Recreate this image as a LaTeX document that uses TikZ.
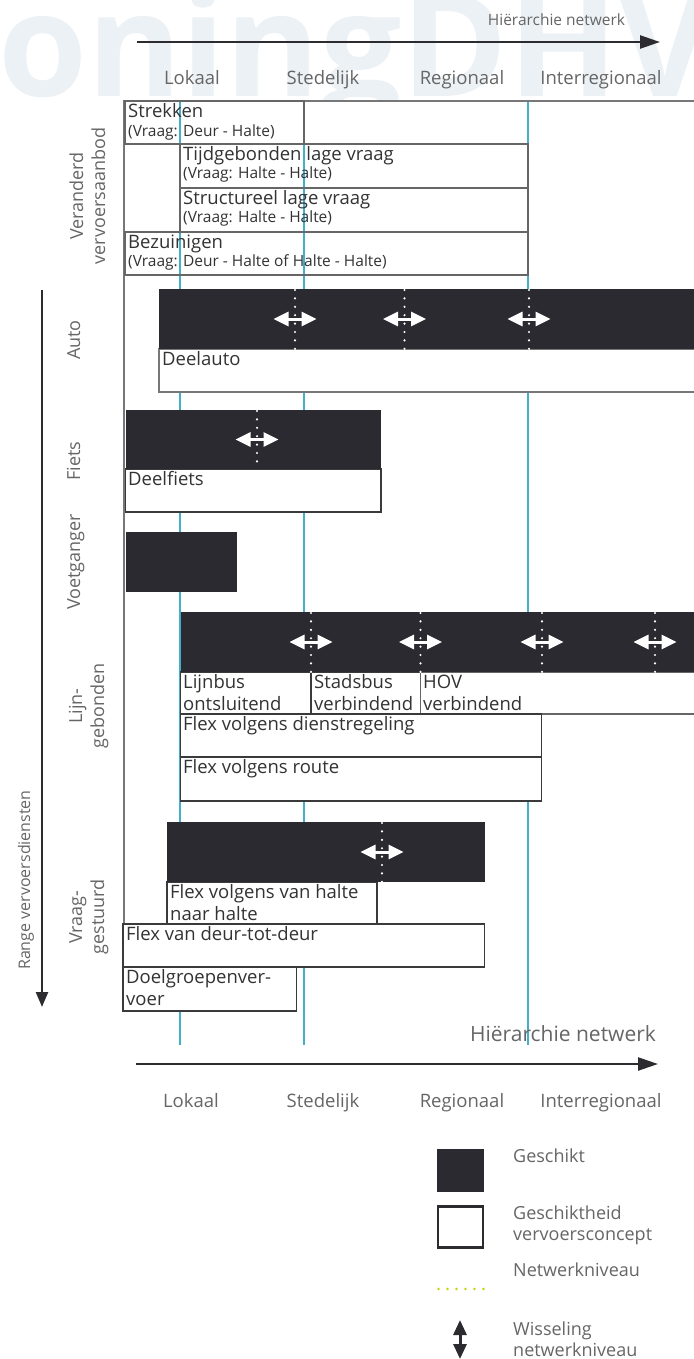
\documentclass[tikz,border=0pt]{standalone}
\usepackage{fontspec}
\setmainfont{Open Sans}
\usetikzlibrary{arrows.meta}
\definecolor{barc}{HTML}{2B2A30}
\definecolor{txtd}{HTML}{333333}
\definecolor{txtg}{HTML}{666666}
\definecolor{framec}{HTML}{777777}
\definecolor{lvlblue}{HTML}{45AFCB}
\definecolor{boxc}{HTML}{3A3A3A}
\definecolor{axisc}{HTML}{2B2B30}
\definecolor{wmark}{HTML}{ECF1F5}
\definecolor{legdot}{HTML}{C6D300}

\begin{document}
\begin{tikzpicture}[x=1pt,y=-1pt,
  lvl/.style={draw=lvlblue,line width=1.2pt},
  cbox/.style={draw=boxc,line width=1.3pt},
  wbox/.style={cbox,fill=white},
  bar/.style={fill=barc},
  wdots/.style={draw=white,line width=2.4pt,line cap=round,dash pattern=on 0pt off 8.4pt},
  wissel/.style={draw=white,line width=3pt,{Triangle[length=15pt,width=14pt]}-{Triangle[length=15pt,width=14pt]}},
  boxlbl/.style={anchor=north west,inner sep=0pt,align=left,text=txtd,font=\fontsize{18.5}{22}\selectfont},
  grp/.style={rotate=90,inner sep=0pt,align=center,text=txtg,font=\fontsize{18}{22}\selectfont},
  lvllbl/.style={anchor=base,inner sep=0pt,text=txtg,font=\fontsize{18.5}{22}\selectfont},
  axis/.style={draw=axisc,line width=2.4pt,-{Triangle[length=20pt,width=13pt]}},
  leg/.style={anchor=north west,inner sep=0pt,align=left,text=txtg,font=\fontsize{18}{22}\selectfont}
]
\useasboundingbox (0,0) rectangle (693,1359);
\fill[white] (0,0) rectangle (693,1359);

\begin{scope}
\clip (0,0) rectangle (693,100);
\node[anchor=base west,inner sep=0pt,text=wmark,font=\fontsize{144}{150}\selectfont\bfseries] (wm) at (-2,97) {oningDHV};
\end{scope}

\foreach \x in {180,304,528} \draw[lvl] (\x,101) -- (\x,1045);

\draw[draw=framec,line width=2.6pt] (124,1011) -- (124,101) -- (694,101);

\draw[cbox,draw=txtg,line width=1.5pt] (125,101) rectangle (304,144);
\draw[cbox,draw=txtg,line width=1.5pt] (180,144) rectangle (528,188);
\draw[cbox,draw=txtg,line width=1.5pt] (180,188) rectangle (528,232);
\draw[cbox,draw=txtg,line width=1.5pt] (125,232) rectangle (528,275);

\draw[wbox,draw=framec,line width=2pt] (159,349) rectangle (700,392);
\draw[wbox] (125.5,469) rectangle (381,512);
\draw[wbox] (180.5,672) rectangle (311,714);
\draw[wbox] (311,672) rectangle (420.5,714);
\draw[wbox,draw=txtg] (420.5,672) rectangle (700,714);
\draw[wbox] (180.5,714) rectangle (541.5,757);
\draw[wbox] (180.5,757) rectangle (541.5,801);
\draw[wbox] (167,882) rectangle (377,924);
\draw[wbox] (123,924) rectangle (484.5,967);
\draw[wbox] (123,967) rectangle (296.5,1011);

\fill[bar] (159,289) rectangle (694,349);
\fill[bar] (125.5,410) rectangle (381,469);
\fill[bar] (125.5,532) rectangle (237,592);
\fill[bar] (180.5,612) rectangle (694,672);
\fill[bar] (167,822) rectangle (485,882);

\foreach \x/\yt/\yb in {295/289/349,404.5/289/349,529/289/349,257/410/469,311/612/672,420.5/612/672,542/612/672,655/612/672,382/822/882}{
  \draw[wissel] (\x-21.5,{(\yt+\yb)/2}) -- (\x+21.5,{(\yt+\yb)/2});
  \draw[wdots] (\x,\yt+1) -- (\x,\yb);
}

\node[boxlbl] (strekken) at (128,102) {\strut Strekken\\[-3pt]{\fontsize{15.5}{19}\selectfont(Vraag: Deur - Halte)}};
\node[boxlbl] (tijd) at (183,145) {\strut Tijdgebonden lage vraag\\[-4pt]{\fontsize{15.5}{19}\selectfont(Vraag: Halte - Halte)}};
\node[boxlbl] (struct) at (183,189) {\strut Structureel lage vraag\\[-4pt]{\fontsize{15.5}{19}\selectfont(Vraag: Halte - Halte)}};
\node[boxlbl] (bezuinigen) at (128,233) {\strut Bezuinigen\\[-4pt]{\fontsize{15.5}{19}\selectfont(Vraag: Deur - Halte of Halte - Halte)}};
\node[boxlbl] (deelauto) at (162,350) {\strut Deelauto};
\node[boxlbl] (deelfiets) at (128,470) {\strut Deelfiets};
\node[boxlbl] (lijnbus) at (183,672.5) {\strut Lijnbus\\ontsluitend};
\node[boxlbl] (stadsbus) at (314,672.5) {\strut Stadsbus\\verbindend};
\node[boxlbl] (hov) at (423,672.5) {\strut HOV\\verbindend};
\node[boxlbl] (flexdienst) at (183,714.5) {\strut Flex volgens dienstregeling};
\node[boxlbl] (flexroute) at (183,757.5) {\strut Flex volgens route};
\node[boxlbl] (flexhalte) at (170,882.5) {\strut Flex volgens van halte\\naar halte};
\node[boxlbl] (flexdeur) at (126,924.5) {\strut Flex van deur-tot-deur};
\node[boxlbl] (doelgroep) at (126,967.5) {\strut Doelgroepenver-\\voer};

\node[grp] (veranderd) at (89.6,196) {\strut Veranderd\\\strut vervoersaanbod};
\node[grp] (auto) at (75.6,340) {\strut Auto};
\node[grp] (fiets) at (75.6,461) {\strut Fiets};
\node[grp] (voet) at (75.6,562) {\strut Voetganger};
\node[grp] (lijn) at (88.6,706) {\strut Lijn-\\\strut gebonden};
\node[grp] (vraag) at (88.6,917) {\strut Vraag-\\\strut gestuurd};
\node[grp,font=\fontsize{16}{20}\selectfont] (range) at (26,880) {\strut Range vervoersdiensten};

\coordinate (r0) at (42,290);
\coordinate (r1) at (42,1007);
\draw[axis,-{Triangle[length=15pt,width=12pt]}] (r0) -- (r1);

\node[lvllbl,font=\fontsize{15.5}{18}\selectfont] (hiertop) at (556.5,26) {Hiërarchie netwerk};
\coordinate (ta0) at (137,42);
\coordinate (ta1) at (660,42);
\draw[axis] (ta0) -- (ta1);
\node[lvllbl] (lokT) at (192,85) {Lokaal};
\node[lvllbl] (stedT) at (323,85) {Stedelijk};
\node[lvllbl] (regT) at (462,85) {Regionaal};
\node[lvllbl] (intT) at (601,85) {Interregionaal};

\node[lvllbl,font=\fontsize{21}{25}\selectfont] (hierbot) at (563,1041.5) {Hiërarchie netwerk};
\coordinate (ba0) at (136,1064);
\coordinate (ba1) at (658,1064);
\draw[axis] (ba0) -- (ba1);
\node[lvllbl] (lokB) at (191,1107) {Lokaal};
\node[lvllbl] (stedB) at (323,1107) {Stedelijk};
\node[lvllbl] (regB) at (462,1107) {Regionaal};
\node[lvllbl] (intB) at (601,1107) {Interregionaal};

\fill[barc] (437,1149) rectangle (484,1192);
\draw[draw=axisc,line width=2.6pt,fill=white] (438,1206.5) rectangle (483,1247.5);
\foreach \i in {0,...,5} \fill[legdot] (438.5+9*\i,1289) circle (1.3);
\coordinate (w0) at (460,1320);
\coordinate (w1) at (460,1359);
\draw[draw=axisc,line width=3pt,{Triangle[length=15pt,width=13pt]}-{Triangle[length=15pt,width=13pt]}] (w0) -- (w1);

\node[leg] (geschikt) at (513,1147) {\strut Geschikt};
\node[leg] (geschiktheid) at (513,1204) {\strut Geschiktheid\\[-1pt]vervoersconcept};
\node[leg] (netwerk) at (513,1260.6) {\strut Netwerkniveau};
\node[leg] (wisseling) at (513,1319.6) {\strut Wisseling\\[-1pt]netwerkniveau};
\end{tikzpicture}
\end{document}
